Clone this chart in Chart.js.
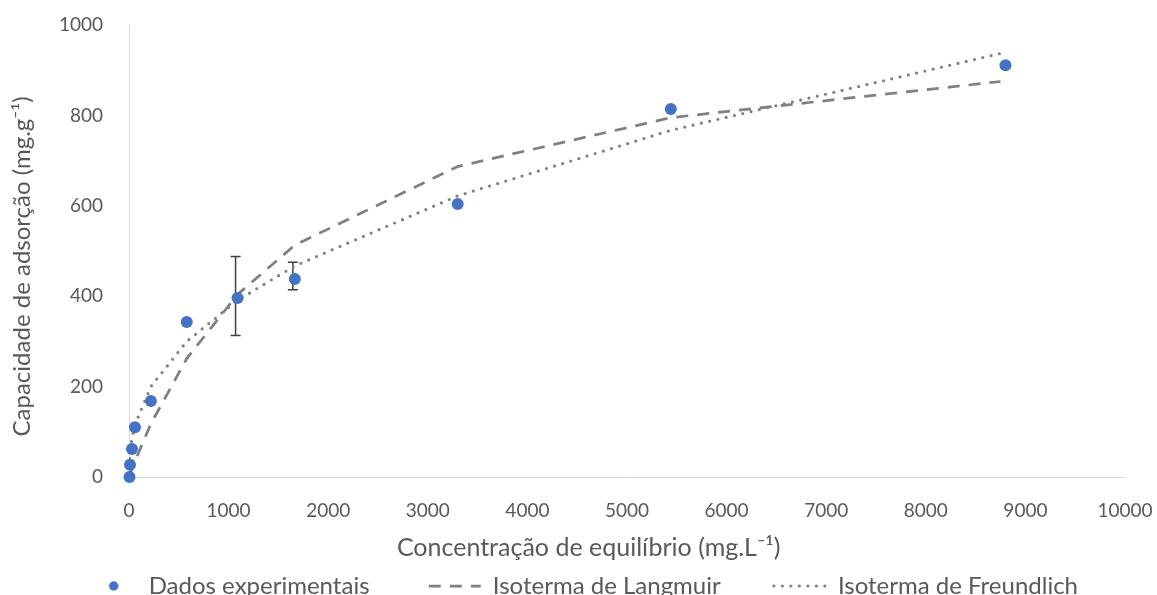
<!DOCTYPE html>
<html lang="pt">
<head>
<meta charset="UTF-8">
<title>Isotermas de adsorção</title>
<script src="https://cdn.jsdelivr.net/npm/chart.js"></script>
<style>
  body { margin: 0; background: #fff; }
  canvas { display: block; }
</style>
</head>
<body>
<canvas id="isoChart" width="1157" height="595"></canvas>
<script>
const concExp = [5, 10, 30, 60, 220, 580, 1090, 1665, 3300, 5440, 8800];
const qExp = [0, 27, 62, 110, 168, 343, 396, 438, 604, 814, 911];
const errUp = [0, 0, 0, 0, 0, 0, 92, 37, 0, 0, 0];
const errDown = [0, 0, 0, 0, 0, 0, 83, 24, 0, 0, 0];

// curvas ajustadas
const concModel = [5, 10, 30, 60, 220, 580, 1090, 1665, 3300, 5440, 8750];
const qLangmuir = [3, 6, 18, 35, 118, 262, 404, 513, 687, 795, 875];
const qFreundlich = [41, 54, 86, 116, 200, 300, 391, 467, 622, 767, 937];

const xTicks = [0, 1000, 2000, 3000, 4000, 5000, 6000, 7000, 8000, 9000, 10000];
const yTicks = [0, 200, 400, 600, 800, 1000];

const legendLabels = ['Dados experimentais', 'Isoterma de Langmuir', 'Isoterma de Freundlich'];
// espaços para afastar os itens da legenda como no original
const legendGaps = [9, 8, 7];

const grey = '#595959';
const font = 'Lato';

const toXY = (xs, ys) => xs.map((x, i) => ({ x: x, y: ys[i] }));

// marcador da legenda (ligeiramente à direita do centro da caixa)
const dot = document.createElement('canvas');
dot.width = 16;
dot.height = 10;
const dctx = dot.getContext('2d');
dctx.fillStyle = '#4472C4';
dctx.beginPath();
dctx.arc(11, 5, 4.7, 0, Math.PI * 2);
dctx.fill();

const errorBars = {
    id: 'errorBars',
    beforeDatasetsDraw(chart) {
        const { ctx, scales: { x, y } } = chart;
        ctx.save();
        ctx.strokeStyle = '#404040';
        ctx.lineWidth = 1.5;
        concExp.forEach(function(c, i) {
            if (!errUp[i] && !errDown[i]) return;
            const px = x.getPixelForValue(c) - 2;
            const top = y.getPixelForValue(qExp[i] + errUp[i]);
            const bot = y.getPixelForValue(qExp[i] - errDown[i]);
            ctx.beginPath();
            ctx.moveTo(px, top); ctx.lineTo(px, bot);
            ctx.moveTo(px - 5, top); ctx.lineTo(px + 5, top);
            ctx.moveTo(px - 5, bot); ctx.lineTo(px + 5, bot);
            ctx.stroke();
        });
        ctx.restore();
    }
};

const ctx = document.getElementById('isoChart').getContext('2d');
new Chart(ctx, {
    type: 'scatter',
    data: {
        datasets: [{
            data: toXY(concExp, qExp),
            backgroundColor: '#4472C4',
            borderWidth: 0,
            pointRadius: 6,
            clip: false
        }, {
            data: toXY(concModel, qLangmuir),
            showLine: true,
            borderColor: '#808080',
            borderWidth: 2.75,
            borderDash: [12, 9],
            pointRadius: 0
        }, {
            data: toXY(concModel, qFreundlich),
            showLine: true,
            borderColor: '#808080',
            borderWidth: 3.2,
            borderDash: [0, 8.5],
            borderCapStyle: 'round',
            pointRadius: 0
        }]
    },
    options: {
        responsive: false,
        devicePixelRatio: 1,
        animation: false,
        layout: { padding: { top: 25, right: 32, bottom: 0, left: 0 } },
        plugins: {
            tooltip: { enabled: false },
            legend: {
                position: 'bottom',
                align: 'end',
                maxHeight: 25,
                labels: {
                    usePointStyle: true,
                    pointStyleWidth: 52,
                    padding: 4,
                    font: { family: font, size: 24 },
                    generateLabels: function(chart) {
                        return chart.data.datasets.map(function(ds, i) {
                            return {
                                text: legendLabels[i] + ' '.repeat(legendGaps[i]),
                                fontColor: grey,
                                fillStyle: i === 0 ? '#4472C4' : 'transparent',
                                strokeStyle: ds.borderColor,
                                lineWidth: i === 0 ? 0 : ds.borderWidth,
                                lineDash: ds.borderDash || [],
                                lineCap: ds.borderCapStyle || 'butt',
                                pointStyle: i === 0 ? dot : 'line',
                                hidden: false,
                                datasetIndex: i
                            };
                        });
                    }
                }
            }
        },
        scales: {
            x: {
                type: 'linear',
                min: 0,
                max: 10000,
                afterFit: function(s) { s.height = 93; s.paddingLeft = 0; s.paddingRight = 0; },
                afterBuildTicks: function(s) { s.ticks = xTicks.map(v => ({ value: v })); },
                grid: { display: false, drawTicks: false },
                border: { color: '#d9d9d9', width: 1 },
                ticks: { color: grey, padding: 22, font: { family: font, size: 19 }, callback: v => String(v) },
                title: {
                    display: true,
                    text: 'Concentração de equilíbrio (mg.L⁻¹)            ',
                    color: grey,
                    font: { family: font, size: 25 },
                    padding: { top: 0, bottom: 7 }
                }
            },
            y: {
                type: 'linear',
                min: 0,
                max: 1000,
                afterFit: function(s) { s.width = 129; s.paddingTop = 0; s.paddingBottom = 0; },
                afterBuildTicks: function(s) { s.ticks = yTicks.map(v => ({ value: v })); },
                grid: { display: false, drawTicks: false },
                border: { color: '#d9d9d9', width: 1 },
                ticks: { color: grey, padding: 26, font: { family: font, size: 19 }, callback: v => String(v) },
                title: {
                    display: true,
                    text: 'Capacidade de adsorção (mg.g⁻¹)     ',
                    color: grey,
                    font: { family: font, size: 24 },
                    padding: { top: 8, bottom: 0 }
                }
            }
        }
    },
    plugins: [errorBars]
});
</script>
</body>
</html>
